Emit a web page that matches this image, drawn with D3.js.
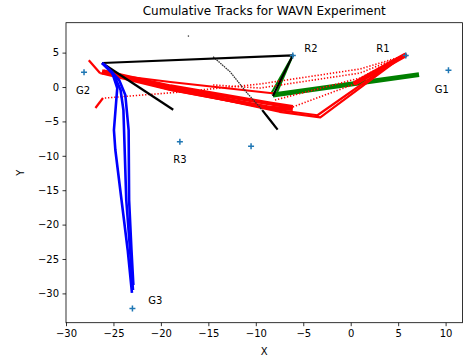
<!DOCTYPE html>
<html>
<head>
<meta charset="utf-8">
<script src="https://cdn.jsdelivr.net/npm/d3@7"></script>
<style>
  body { margin: 0; background: #fff; }
  svg { font-family: "DejaVu Sans", sans-serif; }
</style>
</head>
<body>
<script>
// Chart data
const xTicks = [-30, -25, -20, -15, -10, -5, 0, 5, 10];
const yTicks = [5, 0, -5, -10, -15, -20, -25, -30];

// beacon positions + labels
const beaconNames = ['G1', 'R1', 'R2', 'G2', 'R3', '', 'G3'];
const beaconX = [10.3, 5.8, -6.1, -28.1, -18.0, -10.5, -23.0];
const beaconY = [2.45, 4.6, 4.6, 2.15, -7.95, -8.6, -32.2];
const labelX = [9.6, 3.4, -4.2, -28.2, -18.0, null, -20.6];
const labelY = [-0.3, 5.6, 5.6, -0.45, -10.6, null, -31.05];

// tracks, as [x, y] points
const redTracks = [
  [[-27.6, 3.9], [-26.4, 2.0]],
  [[-26.9, -3.05], [-26.1, -1.6]],
  [[-26.4, 2.0], [-19.0, 0.73], [-8.5, -0.87], [-8.2, -0.9]],
  [[-26.2, 2.3], [-19.0, 0.1], [-8.5, -2.4], [-6.1, -2.9]],
  [[-26.2, 2.1], [-19.0, -0.3], [-8.5, -3.0], [-6.1, -3.2]],
  [[-26.0, 2.4], [-19.0, -0.2], [-7.5, -3.6], [-3.2, -4.4], [5.6, 4.6]],
  [[-26.0, 2.2], [-19.0, -0.4], [-7.9, -3.3], [-3.5, -4.1], [5.4, 4.5]]
];
const redBand = [[0.5, 0.6], [5.7, 4.6]];
const redDotted = [
  [[-25.9, -1.6], [-18.0, -0.73], [-9.56, 0.44], [0.98, 2.62], [5.2, 4.36]],
  [[-14.5, 0.3], [-9.56, -0.15], [0.98, 2.03], [5.2, 4.36]],
  [[-7.98, -1.89], [0.98, 1.31], [5.2, 4.36]],
  [[-6.4, -3.05], [0.98, 0.73], [5.2, 4.36]]
];
const greenTracks = [
  [[-6.1, 4.6], [-8.4, -1.0]],
  [[-6.1, 4.6], [-7.9, -1.2]]
];
const greenBand = [[-8.2, -1.15], [7.2, 1.8]];
const blackTracks = [
  [[-26.2, 3.49], [-6.1, 4.6], [-8.2, -1.3]],
  [[-26.2, 3.49], [-18.7, -3.3]],
  [[-9.3, -3.4], [-8.5, -4.8], [-7.7, -6.2]]
];
const grayDotted = [[-14.5, 4.4], [-12.7, 2.2], [-10.9, -0.9], [-9.6, -2.9], [-8.5, -4.8], [-7.8, -6.1]];
const strayDot = [-17.1, 7.4];
const blueTracks = [
  [[-26.2, 3.49], [-25.15, 2.18], [-24.6, -0.15], [-24.7, -1.89], [-24.95, -6.25], [-24.8, -9.16], [-24.15, -16.42], [-23.5, -23.69], [-23.05, -29.94]],
  [[-26.2, 3.49], [-24.94, 1.74], [-24.25, -0.44], [-23.95, -3.34], [-23.85, -7.7], [-23.65, -16.42], [-23.25, -23.69], [-22.94, -29.51]],
  [[-26.0, 3.34], [-24.4, 1.02], [-23.75, -1.16], [-23.4, -6.25], [-23.35, -16.42], [-23.1, -23.69], [-22.9, -28.78]]
];

// Svg setup
const W = 468, H = 360;
const m = { left: 66, top: 22.7, right: 5.5, bottom: 37.3 };

const svg = d3.select('body').append('svg')
    .attr('width', W)
    .attr('height', H);

const x = d3.scaleLinear().domain([-30, 11.78]).range([m.left, W - m.right]);
const y = d3.scaleLinear().domain([-34.26, 9.35]).range([H - m.bottom, m.top]);

const line = d3.line().x(d => x(d[0])).y(d => y(d[1]));

const fmt = d3.format('d');

// axes
const xAxis = svg.append('g')
    .attr('transform', `translate(0,${H - m.bottom})`)
    .call(d3.axisBottom(x).tickValues(xTicks).tickSize(3.5).tickPadding(3.5).tickFormat(fmt));
const yAxis = svg.append('g')
    .attr('transform', `translate(${m.left},0)`)
    .call(d3.axisLeft(y).tickValues(yTicks).tickSize(3.5).tickPadding(3.5).tickFormat(fmt));
[xAxis, yAxis].forEach(a => {
    a.select('.domain').remove();
    a.selectAll('text').attr('font-size', 10).attr('fill', '#000').attr('font-family', 'DejaVu Sans');
    a.selectAll('line').attr('stroke', '#000').attr('stroke-width', 0.8);
});

// frame
svg.append('rect')
    .attr('x', m.left).attr('y', m.top)
    .attr('width', W - m.left - m.right).attr('height', H - m.top - m.bottom)
    .attr('fill', 'none').attr('stroke', '#000').attr('stroke-width', 0.8);

const plot = svg.append('g');

// green
plot.selectAll('.gr').data(greenTracks).join('path')
    .attr('d', line).attr('fill', 'none').attr('stroke', '#008000').attr('stroke-width', 2);
plot.append('path').datum(greenBand)
    .attr('d', line).attr('fill', 'none').attr('stroke', '#008000').attr('stroke-width', 5);

// red
plot.selectAll('.rd').data(redDotted).join('path')
    .attr('d', line).attr('fill', 'none').attr('stroke', '#ff0000')
    .attr('stroke-width', 1.6).attr('stroke-dasharray', '1.3,1.8');
plot.selectAll('.rt').data(redTracks).join('path')
    .attr('d', line).attr('fill', 'none').attr('stroke', '#ff0000')
    .attr('stroke-width', (d, i) => i === 3 || i === 4 ? 4 : 2.2)
    .attr('stroke-linejoin', 'round');
plot.append('path').datum(redBand)
    .attr('d', line).attr('fill', 'none').attr('stroke', '#ff0000').attr('stroke-width', 5)
    .attr('stroke-linecap', 'round');

// black
plot.append('path').datum(grayDotted)
    .attr('d', line).attr('fill', 'none').attr('stroke', '#333')
    .attr('stroke-width', 1.3).attr('stroke-dasharray', '1.6,0.8');
plot.selectAll('.bk').data(blackTracks).join('path')
    .attr('d', line).attr('fill', 'none').attr('stroke', '#000').attr('stroke-width', 2.2)
    .attr('stroke-linejoin', 'round');
plot.append('circle')
    .attr('cx', x(strayDot[0])).attr('cy', y(strayDot[1])).attr('r', 0.8).attr('fill', '#444');

// blue
plot.selectAll('.bl').data(blueTracks).join('path')
    .attr('d', line).attr('fill', 'none').attr('stroke', '#0000ff').attr('stroke-width', 2.6)
    .attr('stroke-linejoin', 'round');

// beacons
const beacons = plot.selectAll('.bc').data(beaconX).join('g')
    .attr('transform', (d, i) => `translate(${x(d)},${y(beaconY[i])})`);
beacons.append('path')
    .attr('d', 'M-3,0H3M0,-3V3')
    .attr('stroke', '#1f77b4').attr('stroke-width', 1.5);

plot.selectAll('.lb').data(beaconNames.filter(n => n)).join('text')
    .attr('x', n => x(labelX[beaconNames.indexOf(n)]))
    .attr('y', n => y(labelY[beaconNames.indexOf(n)]))
    .attr('text-anchor', 'middle')
    .attr('dominant-baseline', 'central')
    .attr('font-size', 10)
    .text(n => n);

// titles
svg.append('text')
    .attr('x', (m.left + W - m.right) / 2).attr('y', 15)
    .attr('text-anchor', 'middle').attr('font-size', 12)
    .text('Cumulative Tracks for WAVN Experiment');
svg.append('text')
    .attr('x', (m.left + W - m.right) / 2).attr('y', 355)
    .attr('text-anchor', 'middle').attr('font-size', 10)
    .text('X');
svg.append('text')
    .attr('transform', `translate(24,${(m.top + H - m.bottom) / 2}) rotate(-90)`)
    .attr('text-anchor', 'middle').attr('font-size', 10)
    .text('Y');
</script>
</body>
</html>
